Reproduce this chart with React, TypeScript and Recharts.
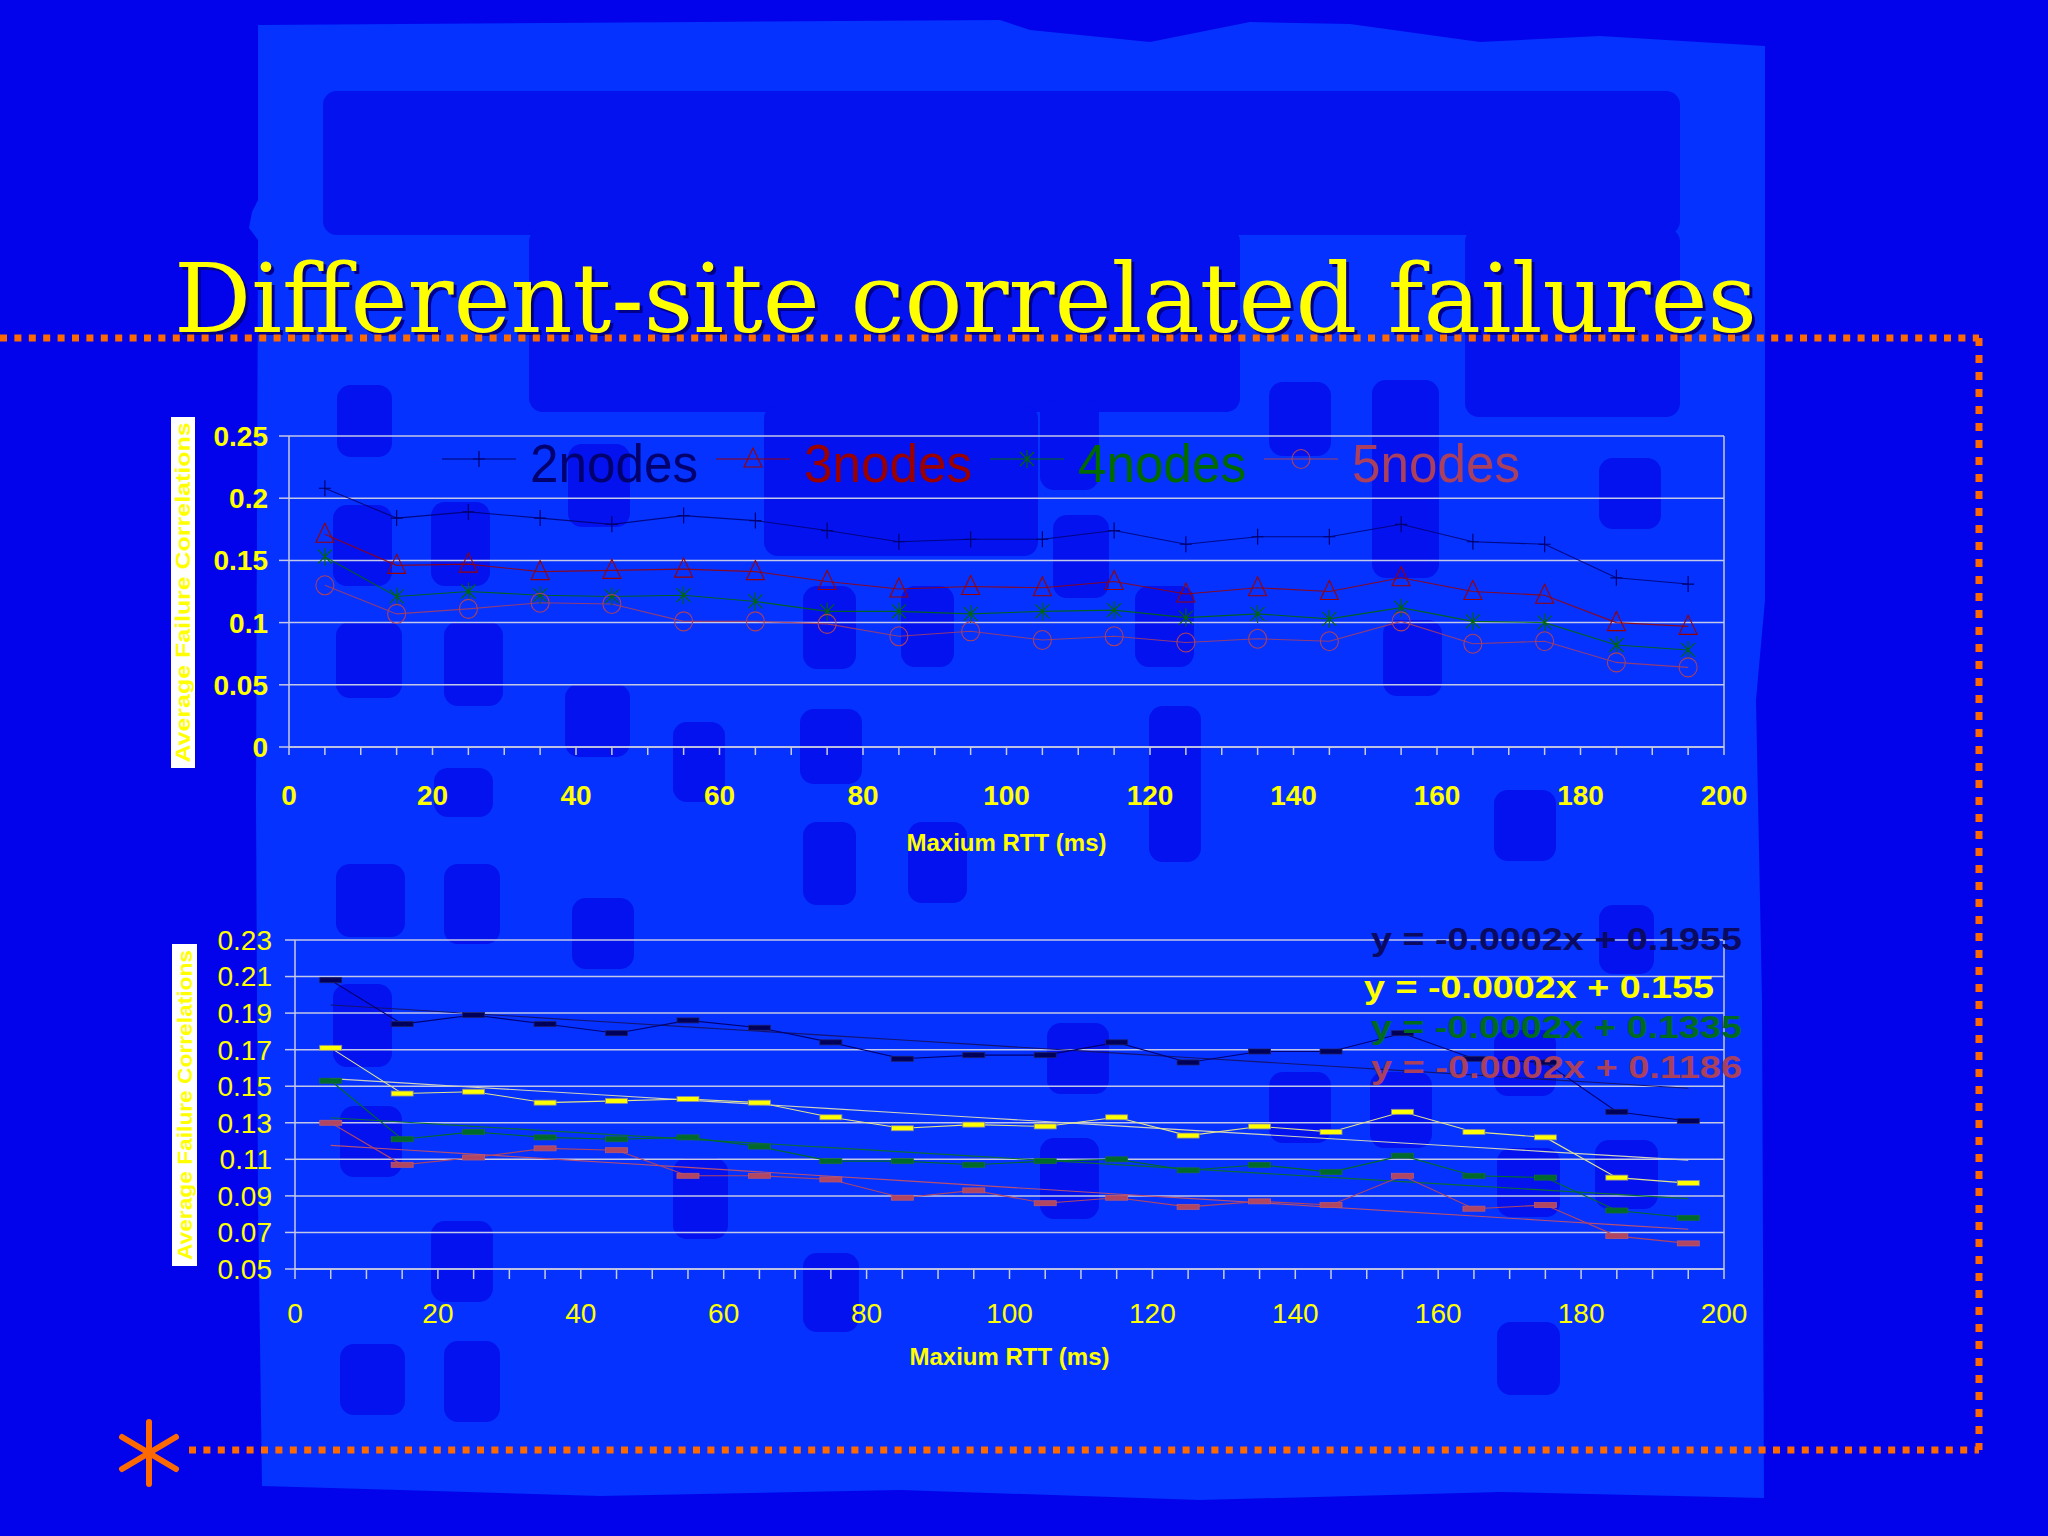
import React from 'react';
import { LineChart, Line, XAxis, YAxis, CartesianGrid, ReferenceLine, Legend, Label } from 'recharts';

const FONT = '"Liberation Sans", Arial, Helvetica, sans-serif';

// ---------- data ----------
const rtt = [5, 15, 25, 35, 45, 55, 65, 75, 85, 95, 105, 115, 125, 135, 145, 155, 165, 175, 185, 195];
const nodes2 = [0.208, 0.184, 0.189, 0.184, 0.179, 0.186, 0.182, 0.174, 0.165, 0.167, 0.167, 0.174, 0.163, 0.169, 0.169, 0.179, 0.165, 0.163, 0.136, 0.131];
const nodes3 = [0.171, 0.146, 0.147, 0.141, 0.142, 0.143, 0.141, 0.133, 0.127, 0.129, 0.128, 0.133, 0.123, 0.128, 0.125, 0.136, 0.125, 0.122, 0.100, 0.097];
const nodes4 = [0.153, 0.121, 0.125, 0.122, 0.121, 0.122, 0.117, 0.109, 0.109, 0.107, 0.109, 0.110, 0.104, 0.107, 0.103, 0.112, 0.101, 0.100, 0.082, 0.078];
const nodes5 = [0.130, 0.107, 0.111, 0.116, 0.115, 0.101, 0.101, 0.099, 0.089, 0.093, 0.086, 0.089, 0.084, 0.087, 0.085, 0.101, 0.083, 0.085, 0.068, 0.064];
const seriesNames = ['2nodes', '3nodes', '4nodes', '5nodes'];
const xTicks = [0, 5, 10, 15, 20, 25, 30, 35, 40, 45, 50, 55, 60, 65, 70, 75, 80, 85, 90, 95, 100, 105, 110, 115, 120, 125, 130, 135, 140, 145, 150, 155, 160, 165, 170, 175, 180, 185, 190, 195, 200];
const xTickLabels = [0, 20, 40, 60, 80, 100, 120, 140, 160, 180, 200];
const yTicksTop = [0, 0.05, 0.1, 0.15, 0.2, 0.25];
const yTicksBottom = [0.05, 0.07, 0.09, 0.11, 0.13, 0.15, 0.17, 0.19, 0.21, 0.23];
const trendEquations = ['y = -0.0002x + 0.1955', 'y = -0.0002x + 0.155', 'y = -0.0002x + 0.1335', 'y = -0.0002x + 0.1186'];
const titleText = 'Different-site correlated failures';
const xAxisTitle = 'Maxium RTT (ms)';
const yAxisTitle = 'Average Failure Correlations';

// ---------- styles ----------
const keys = ['n2', 'n3', 'n4', 'n5'];
const trendKeys = ['t2', 't3', 't4', 't5'];
const topColors = ['#00006E', '#9A0000', '#006A00', '#AA405E'];
const topMarkers = ['plus', 'triangle', 'star', 'circle'];
const bottomFill = ['#00005A', '#FFFF00', '#006A2A', '#B04662'];
const bottomEdge = ['#202060', '#8A8A9A', '#1A6A3A', '#B85A72'];
const bottomLine = ['#000070', '#E4E48A', '#006A2A', '#B04662'];
const trendColors = ['#141470', '#D0D2BE', '#0A6A3A', '#B85070'];
const eqColors = ['#0A0A60', '#FFFF00', '#006A1E', '#A8405E'];
const gridColor = '#C4C8E8';
const axisColor = '#C8CCE0';

// least-squares trend lines (like the spreadsheet's linear trendline)
const fit = (xs: number[], ys: number[]) => {
  const n = xs.length;
  const mx = xs.reduce((s, v) => s + v, 0) / n;
  const my = ys.reduce((s, v) => s + v, 0) / n;
  let sxy = 0;
  let sxx = 0;
  for (let i = 0; i < n; i++) {
    sxy += (xs[i] - mx) * (ys[i] - my);
    sxx += (xs[i] - mx) * (xs[i] - mx);
  }
  const b = sxy / sxx;
  return { a: my - b * mx, b };
};
const allSeries = [nodes2, nodes3, nodes4, nodes5];
const fits = allSeries.map((s) => fit(rtt, s));
const rows = rtt.map((x, i) => {
  const r: any = { x };
  keys.forEach((k, j) => {
    r[k] = allSeries[j][i];
    r[trendKeys[j]] = fits[j].a + fits[j].b * x;
  });
  return r;
});

// ---------- markers ----------
const markerShape = (kind: string, cx: number, cy: number, color: string, key?: any) => {
  if (cx == null || cy == null) return <g key={key} />;
  switch (kind) {
    case 'plus':
      return <path key={key} d={`M${cx - 6},${cy}H${cx + 6}M${cx},${cy - 8}V${cy + 8}`} stroke={color} strokeWidth={1.2} fill="none" />;
    case 'triangle':
      return <path key={key} d={`M${cx},${cy - 11}L${cx - 9},${cy + 8}L${cx + 9},${cy + 8}Z`} stroke={color} strokeWidth={1.1} fill="none" />;
    case 'star':
      return <path key={key} d={`M${cx - 7},${cy - 7}L${cx + 7},${cy + 7}M${cx - 7},${cy + 7}L${cx + 7},${cy - 7}M${cx},${cy - 9}V${cy + 9}`} stroke={color} strokeWidth={1.1} fill="none" />;
    case 'circle':
      return <ellipse key={key} cx={cx} cy={cy} rx={9} ry={9.5} stroke={color} strokeWidth={1.1} fill="none" />;
    default:
      return <g key={key} />;
  }
};
const topDot = (i: number) => (p: any) => markerShape(topMarkers[i], p.cx, p.cy, topColors[i], p.index);
const dashDot = (i: number) => (p: any) =>
  p.cx == null ? <g key={p.index} /> : (
    <rect key={p.index} x={p.cx - 11} y={p.cy - 2.5} width={22} height={5} fill={bottomFill[i]} stroke={bottomEdge[i]} strokeWidth={0.8} />
  );

// ---------- axis pieces ----------
const makeXTick = (bold: boolean) => (props: any) => {
  const { x, y, payload } = props;
  if (!xTickLabels.includes(payload.value)) return <g />;
  return (
    <text x={x} y={y} dy="0.71em" textAnchor="middle" fill="#FFFF00" fontSize={28} fontWeight={bold ? 700 : 400} fontFamily={FONT}>
      {payload.value}
    </text>
  );
};

const xTitle = (dy: number) => (props: any) => {
  const vb = props.viewBox || { x: 0, y: 0, width: 0, height: 0 };
  return (
    <text x={vb.x + vb.width / 2} y={vb.y + dy} textAnchor="middle" dominantBaseline="central" fill="#FFFF00" fontSize={24} fontWeight={700} fontFamily={FONT}>
      {xAxisTitle}
    </text>
  );
};

const yTitle = (boxX: number, boxW: number, padTop: number, padBottom: number, len: number) => (props: any) => {
  const vb = props.viewBox || { x: 0, y: 0, width: 0, height: 0 };
  const top = vb.y - padTop;
  const h = vb.height + padTop + padBottom;
  const cx = boxX + boxW / 2;
  const cy = top + h / 2;
  return (
    <g>
      <rect x={boxX} y={top} width={boxW} height={h} fill="#FFFFFF" />
      <text transform={`translate(${cx},${cy}) rotate(-90)`} textAnchor="middle" dominantBaseline="central" fill="#FFFF00" fontSize={20} fontWeight={700} fontFamily={FONT} textLength={len} lengthAdjust="spacingAndGlyphs">
        {yAxisTitle}
      </text>
    </g>
  );
};

const renderLegend = () => (
  <svg width={1200} height={70} style={{ overflow: 'visible' }}>
    {seriesNames.map((name, i) => {
      const x0 = 12 + 274 * i;
      return (
        <g key={name}>
          <line x1={x0} x2={x0 + 74} y1={29} y2={29} stroke={topColors[i]} strokeWidth={1.2} />
          {markerShape(topMarkers[i], x0 + 37, 29, topColors[i])}
          <text x={x0 + 88} y={52} fontSize={53} fill={topColors[i]} fontFamily={FONT} textLength={168} lengthAdjust="spacingAndGlyphs">
            {name}
          </text>
        </g>
      );
    })}
  </svg>
);

// ---------- background decoration ----------
const patches = [
  [323, 91, 1680, 235], [529, 228, 1240, 412], [764, 405, 1038, 556], [1465, 228, 1680, 417],
  [337, 385, 392, 457], [333, 505, 392, 586], [431, 502, 490, 586], [336, 622, 402, 698], [444, 622, 503, 706],
  [565, 684, 630, 757], [673, 722, 725, 802], [800, 709, 862, 784], [803, 586, 856, 669], [901, 586, 954, 667],
  [568, 444, 630, 527], [1040, 400, 1099, 490], [1269, 382, 1331, 456], [1372, 380, 1439, 578], [1383, 620, 1442, 696],
  [1053, 515, 1109, 598], [1135, 586, 1194, 667], [1149, 706, 1201, 862], [1599, 458, 1661, 529],
  [336, 864, 405, 937], [444, 864, 500, 944], [572, 898, 634, 969], [333, 984, 392, 1067], [340, 1106, 402, 1177],
  [431, 1221, 493, 1302], [673, 1158, 728, 1239], [803, 1253, 859, 1332], [803, 822, 856, 905], [908, 822, 967, 903],
  [340, 1344, 405, 1415], [444, 1341, 500, 1422], [434, 768, 493, 817], [1494, 790, 1556, 861], [1599, 905, 1654, 974],
  [1047, 1023, 1109, 1094], [1040, 1138, 1099, 1219], [1269, 1072, 1331, 1143], [1370, 1072, 1432, 1148],
  [1494, 1030, 1556, 1096], [1497, 1148, 1560, 1217], [1595, 1140, 1658, 1209], [1497, 1322, 1560, 1395],
];
const lightRegion =
  'M258,25 L700,22 L1000,20 L1030,30 L1150,42 L1250,22 L1350,24 L1480,42 L1600,36 L1765,46 L1765,600 L1756,700 L1762,1000 L1764,1498 L1500,1492 L1200,1500 L900,1490 L600,1496 L400,1490 L262,1486 L258,1200 L256,800 L258,240 L249,228 L252,212 L258,200 Z';

const Background = () => (
  <svg width={2048} height={1536} style={{ position: 'absolute', left: 0, top: 0 }}>
    <rect x={0} y={0} width={2048} height={1536} fill="#0303EB" />
    <path d={lightRegion} fill="#0532FF" />
    {patches.map((p, i) => (
      <rect key={i} x={p[0]} y={p[1]} width={p[2] - p[0]} height={p[3] - p[1]} rx={14} ry={14} fill="#0412F0" />
    ))}
    <text x={177} y={335} fontSize={96} fontFamily='"DejaVu Serif", "Liberation Serif", serif' fill="#00008A" textLength={1583} lengthAdjust="spacingAndGlyphs">
      {titleText}
    </text>
    <text x={174} y={332} fontSize={96} fontFamily='"DejaVu Serif", "Liberation Serif", serif' fill="#FFFF00" textLength={1583} lengthAdjust="spacingAndGlyphs">
      {titleText}
    </text>
    <path d="M0,338 H1979" stroke="#FF6A00" strokeWidth={7} strokeDasharray="7 7.4" fill="none" />
    <path d="M1979,338 V1450" stroke="#FF6A00" strokeWidth={7} strokeDasharray="8 9" fill="none" />
    <path d="M189,1450 H1979" stroke="#FF6A00" strokeWidth={7} strokeDasharray="7 7.4" fill="none" />
    <g stroke="#FF6A00" strokeWidth={6} strokeLinecap="round">
      <line x1={149} y1={1422} x2={149} y2={1484} />
      <line x1={122} y1={1437} x2={176} y2={1469} />
      <line x1={122} y1={1469} x2={176} y2={1437} />
    </g>
  </svg>
);

const Equations = () => {
  const pos = [
    [1371, 950, 371],
    [1364, 998, 350],
    [1371, 1038, 371],
    [1371, 1078, 371],
  ];
  return (
    <svg width={2048} height={1536} style={{ position: 'absolute', left: 0, top: 0, pointerEvents: 'none' }}>
      {trendEquations.map((t, i) => (
        <text key={t} x={pos[i][0]} y={pos[i][1]} fontSize={32} fontWeight={700} fontFamily={FONT} fill={eqColors[i]} textLength={pos[i][2]} lengthAdjust="spacingAndGlyphs">
          {t}
        </text>
      ))}
    </svg>
  );
};

export default function App() {
  return (
    <div style={{ position: 'absolute', left: 0, top: 0, width: 2048, height: 1536, overflow: 'hidden' }}>
      <Background />

      {/* top chart */}
      <div style={{ position: 'absolute', left: 0, top: 380, width: 1800, height: 500 }}>
        <LineChart width={1800} height={500} data={rows} margin={{ top: 56, right: 76, bottom: 33, left: 0 }}>
          <CartesianGrid horizontal vertical={false} stroke={gridColor} strokeWidth={1.5} />
          <XAxis
            dataKey="x"
            type="number"
            domain={[0, 200]}
            ticks={xTicks}
            interval={0}
            height={100}
            tickSize={8}
            tickMargin={30}
            axisLine={{ stroke: axisColor, strokeWidth: 1.5 }}
            tickLine={{ stroke: axisColor, strokeWidth: 1.5 }}
            tick={makeXTick(true)}
          >
            <Label content={xTitle(95)} />
          </XAxis>
          <YAxis
            type="number"
            domain={[0, 0.25]}
            ticks={yTicksTop}
            interval={0}
            width={289}
            tickSize={10}
            tickMargin={11}
            axisLine={{ stroke: axisColor, strokeWidth: 1.5 }}
            tickLine={{ stroke: gridColor, strokeWidth: 1.5 }}
            tick={{ fill: '#FFFF00', fontSize: 28, fontWeight: 700, fontFamily: FONT }}
          >
            <Label content={yTitle(171, 24, 19, 21, 340)} />
          </YAxis>
          <ReferenceLine x={200} stroke={gridColor} strokeWidth={1.5} />
          <Legend
            verticalAlign="middle"
            align="center"
            layout="horizontal"
            wrapperStyle={{ top: 50, left: 430, width: 1200, height: 70 }}
            content={renderLegend}
          />
          {keys.map((k, i) => (
            <Line
              key={k}
              dataKey={k}
              name={seriesNames[i]}
              stroke={topColors[i]}
              strokeWidth={1.1}
              strokeOpacity={0.85}
              dot={topDot(i)}
              activeDot={false}
              isAnimationActive={false}
            />
          ))}
        </LineChart>
      </div>

      {/* bottom chart */}
      <div style={{ position: 'absolute', left: 0, top: 880, width: 1800, height: 540 }}>
        <LineChart width={1800} height={540} data={rows} margin={{ top: 60, right: 76, bottom: 51, left: 0 }}>
          <CartesianGrid horizontal vertical={false} stroke={gridColor} strokeWidth={1.5} />
          <XAxis
            dataKey="x"
            type="number"
            domain={[0, 200]}
            ticks={xTicks}
            interval={0}
            height={100}
            tickSize={10}
            tickMargin={24}
            axisLine={{ stroke: axisColor, strokeWidth: 1.5 }}
            tickLine={{ stroke: axisColor, strokeWidth: 1.5 }}
            tick={makeXTick(false)}
          >
            <Label content={xTitle(87)} />
          </XAxis>
          <YAxis
            type="number"
            domain={[0.05, 0.23]}
            ticks={yTicksBottom}
            interval={0}
            width={295}
            tickSize={10}
            tickMargin={13}
            tickFormatter={(v: number) => v.toFixed(2)}
            axisLine={{ stroke: axisColor, strokeWidth: 1.5 }}
            tickLine={{ stroke: gridColor, strokeWidth: 1.5 }}
            tick={{ fill: '#FFFF00', fontSize: 28, fontWeight: 400, fontFamily: FONT }}
          >
            <Label content={yTitle(172, 25, -4, -3, 310)} />
          </YAxis>
          <ReferenceLine x={200} stroke={gridColor} strokeWidth={1.5} />
          {trendKeys.map((k, i) => (
            <Line
              key={k}
              dataKey={k}
              stroke={trendColors[i]}
              strokeWidth={1.1}
              dot={false}
              activeDot={false}
              legendType="none"
              isAnimationActive={false}
            />
          ))}
          {keys.map((k, i) => (
            <Line
              key={k}
              dataKey={k}
              name={seriesNames[i]}
              stroke={bottomLine[i]}
              strokeWidth={1.1}
              dot={dashDot(i)}
              activeDot={false}
              isAnimationActive={false}
            />
          ))}
        </LineChart>
      </div>

      <Equations />
    </div>
  );
}
